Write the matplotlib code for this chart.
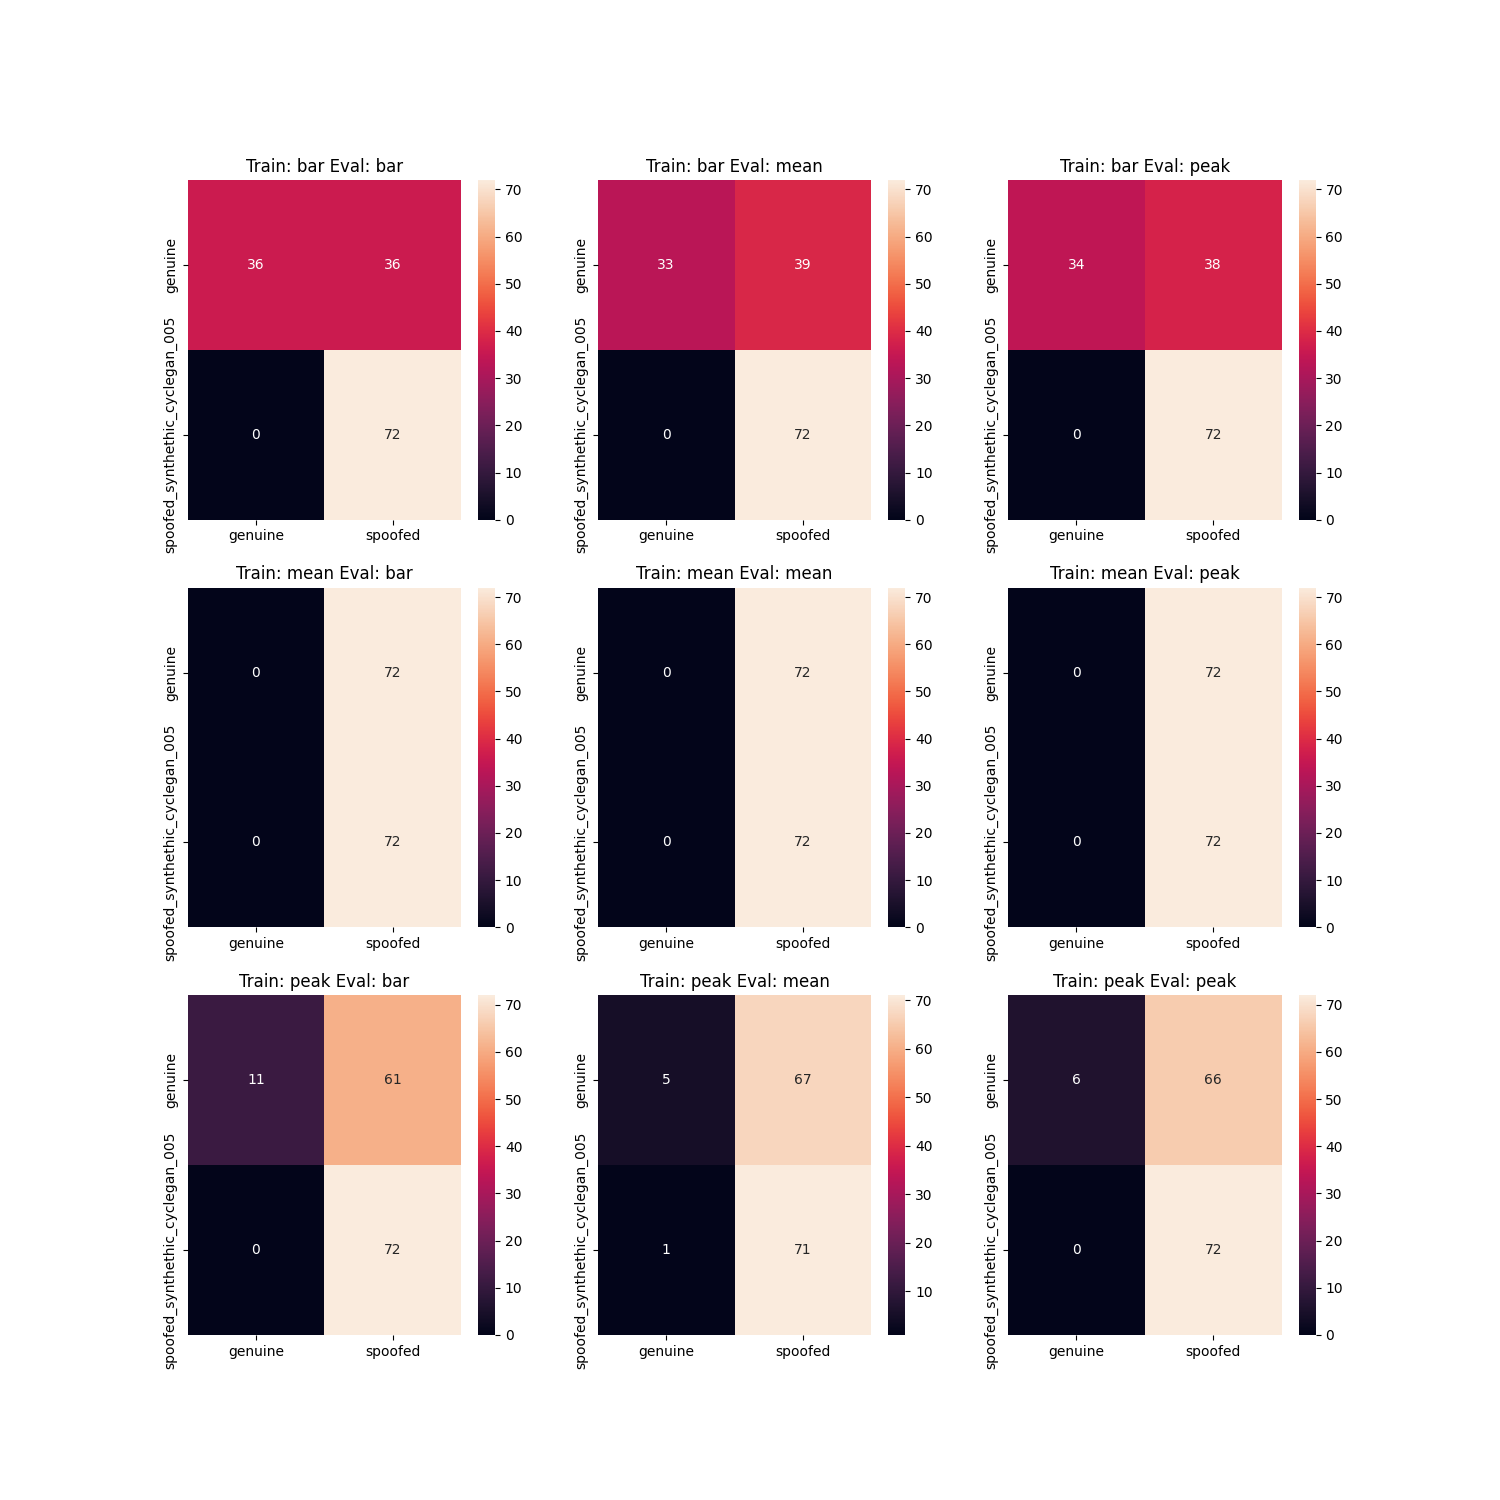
import numpy as np
import matplotlib
matplotlib.use("Agg")
import matplotlib.pyplot as plt
import seaborn as sns

methods = ["bar", "mean", "peak"]
x_labels = ["genuine", "spoofed"]
y_labels = ["genuine", "spoofed_synthethic_cyclegan_005"]

# confusion matrices [train][eval]
cm_bar_bar = [[36, 36], [0, 72]]
cm_bar_mean = [[33, 39], [0, 72]]
cm_bar_peak = [[34, 38], [0, 72]]
cm_mean_bar = [[0, 72], [0, 72]]
cm_mean_mean = [[0, 72], [0, 72]]
cm_mean_peak = [[0, 72], [0, 72]]
cm_peak_bar = [[11, 61], [0, 72]]
cm_peak_mean = [[5, 67], [1, 71]]
cm_peak_peak = [[6, 66], [0, 72]]

matrices = [
    [cm_bar_bar, cm_bar_mean, cm_bar_peak],
    [cm_mean_bar, cm_mean_mean, cm_mean_peak],
    [cm_peak_bar, cm_peak_mean, cm_peak_peak],
]

fig, axes = plt.subplots(3, 3, figsize=(15, 15), dpi=100)
for i, tr in enumerate(methods):
    for j, ev in enumerate(methods):
        ax = axes[i][j]
        sns.heatmap(np.array(matrices[i][j]), annot=True, fmt="d",
                    xticklabels=x_labels, yticklabels=y_labels, ax=ax)
        ax.set_title(f"Train: {tr} Eval: {ev}")

fig.savefig("out.png")
